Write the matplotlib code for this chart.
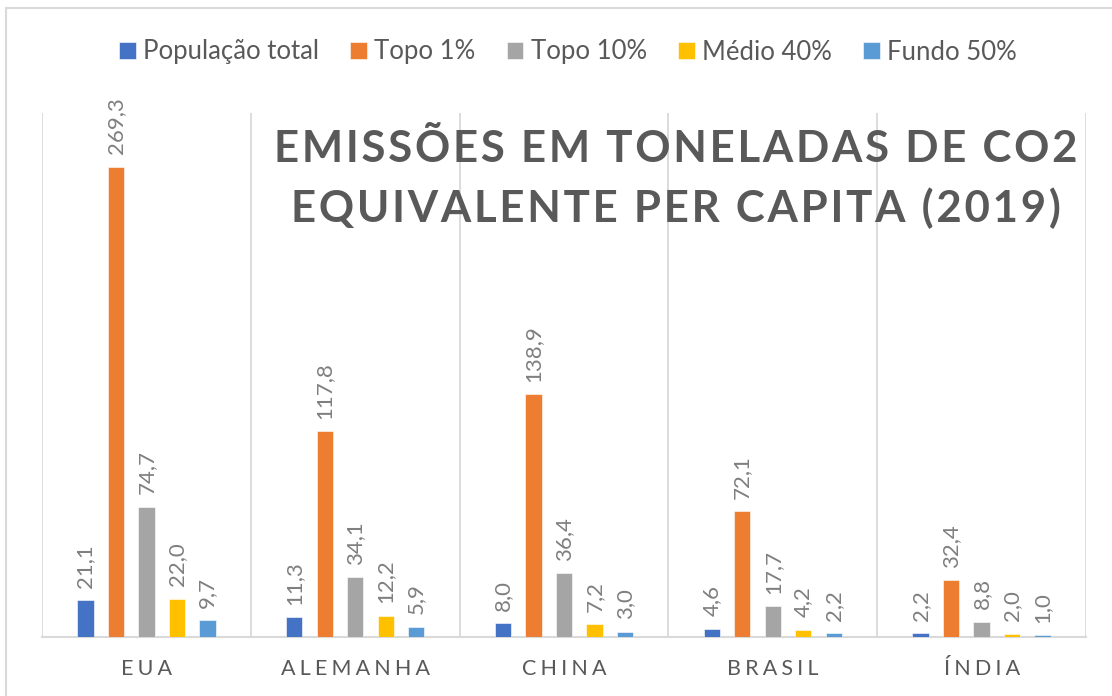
import matplotlib
matplotlib.use("Agg")
import matplotlib.pyplot as plt
from matplotlib.patches import Rectangle
import numpy as np

# data
paises = ["EUA", "ALEMANHA", "CHINA", "BRASIL", "ÍNDIA"]
series = ["População total", "Topo 1%", "Topo 10%", "Médio 40%", "Fundo 50%"]
pop_total = [21.1, 11.3, 8.0, 4.6, 2.2]
topo_1 = [269.3, 117.8, 138.9, 72.1, 32.4]
topo_10 = [74.7, 34.1, 36.4, 17.7, 8.8]
medio_40 = [22.0, 12.2, 7.2, 4.2, 2.0]
fundo_50 = [9.7, 5.9, 3.0, 2.2, 1.0]
cores = ["#4472C4", "#ED7D31", "#A5A5A5", "#FFC000", "#5B9BD5"]

valores = [pop_total, topo_1, topo_10, medio_40, fundo_50]

FONT = ["Lato", "DejaVu Sans"]
plt.rcParams['font.family'] = FONT

def espacado(txt, sep="\u2009"):
    return sep.join(list(txt))

fig = plt.figure(figsize=(11.12, 6.96), dpi=100)
ax = fig.add_axes([42/1112, 1-637/696, (1086-42)/1112, (637-113)/696])

# outer chart border
fig.patches.append(Rectangle((6/1112, -0.05), 1.2, 1-8/696+0.05, transform=fig.transFigure,
                             fill=False, edgecolor="#D9D9D9", linewidth=1.5))

x = np.arange(len(paises))
passo = 0.146
larg = 0.078
for i, (nome, vals, cor) in enumerate(zip(series, valores, cores)):
    pos = x + (i - 2) * passo
    ax.bar(pos, vals, width=larg, color=cor, label=nome, edgecolor="white", linewidth=0.4, zorder=3)
    for xp, v in zip(pos, vals):
        ax.annotate("{:.1f}".format(v).replace(".", ","), (xp, v), xytext=(0, 9),
                    textcoords="offset points", rotation=90, ha="center", va="bottom",
                    fontsize=16, color="#7F7F7F")

ax.set_xlim(-0.5, len(paises) - 0.5)
ax.set_ylim(0, 300)
ax.set_yticks([])
ax.set_xticks(x)
ax.set_xticklabels([espacado(p, "\u2009\u200a") for p in paises], fontsize=15.5, color="#595959")
ax.tick_params(axis="x", length=0, pad=16)
for b in np.arange(-0.5, len(paises), 1.0):
    ax.axvline(b, color="#D9D9D9", linewidth=1.3, zorder=1)
for s in ["top", "right", "left"]:
    ax.spines[s].set_visible(False)
ax.spines["bottom"].set_color("#D9D9D9")
ax.spines["bottom"].set_linewidth(1.5)

fig.text(676/1112, 1-162/696, espacado("EMISSÕES EM TONELADAS DE CO2", "\u200a"),
         ha="center", va="baseline", fontsize=31.5, fontweight="bold", color="#595959")
fig.text(676/1112, 1-222/696, espacado("EQUIVALENTE PER CAPITA (2019)", "\u200a"),
         ha="center", va="baseline", fontsize=31.5, fontweight="bold", color="#595959")

fig.legend(loc="center", bbox_to_anchor=(568/1112, 1-52/696), ncol=5, frameon=False,
           fontsize=18.5, handlelength=0.65, handleheight=0.65, handletextpad=0.3,
           columnspacing=1.2, labelcolor="#595959")

fig.savefig("out.png", dpi=100)
